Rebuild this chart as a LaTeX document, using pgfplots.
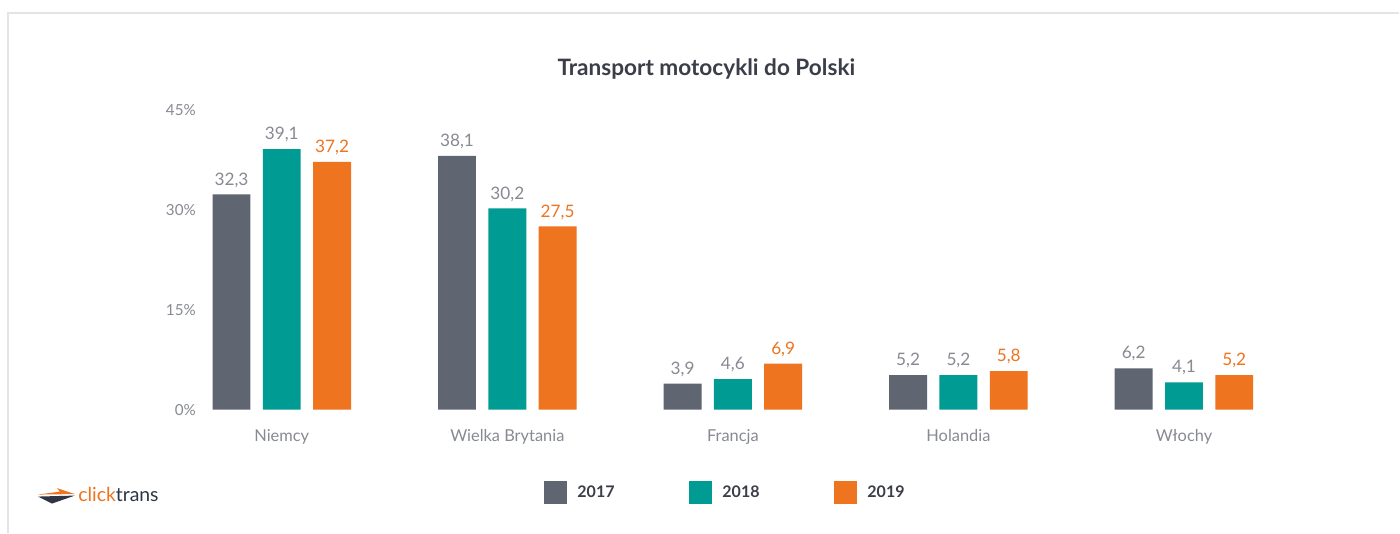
\documentclass[border=0pt]{standalone}
\usepackage{fontspec}
\setmainfont{Lato}
\usepackage{pgfplots}
\pgfplotsset{compat=1.18}
\definecolor{cgray}{HTML}{5F6672}
\definecolor{cteal}{HTML}{009B93}
\definecolor{corange}{HTML}{EE741F}
\definecolor{ctext}{HTML}{878A92}
\definecolor{ctitle}{HTML}{3B3D48}
\definecolor{cframe}{HTML}{E4E4E4}
\definecolor{clogo}{HTML}{2F3545}
\begin{document}
\begin{tikzpicture}
\begin{scope}[x=0.5pt,y=0.5pt]
\fill[white] (0,0) rectangle (1400,533);
\draw[cframe, line width=1.2pt] (8,0) -- (8,520) -- (1400,520);
\node[font=\bfseries\fontsize{11.3}{13}\selectfont, text=ctitle] at (707,464) {Transport motocykli do Polski};
% logo
\fill[corange] (38,38) -- (60,41) -- (57,44.5) -- (75,38.5) -- cycle;
\fill[clogo] (38,36) -- (75,37) -- (52,29) -- cycle;
\node[anchor=base west, inner sep=0pt, font=\fontsize{9.7}{11}\selectfont] at (78,31) {\textcolor{corange}{click}\textcolor{clogo}{trans}};
\end{scope}
\begin{axis}[
  at={(101.5pt,61.5pt)}, anchor=south west,
  scale only axis, width=530.5pt, height=150pt,
  xmin=-0.35, xmax=4.35, ymin=0, ymax=45,
  clip=false,
  ybar, bar width=0.168,
  axis line style={draw=none}, major tick length=0pt,
  xtick={0,1,2,3,4},
  xticklabels={Niemcy, Wielka Brytania, Francja, Holandia, Włochy},
  ytick={0,15,30,45},
  yticklabel={\pgfmathprintnumber{\tick}\%},
  tick label style={font=\fontsize{7.6}{9}\selectfont, text=ctext},
  xticklabel style={yshift=-6.5pt, font=\fontsize{8.2}{10}\selectfont},
  /pgf/number format/assume math mode=true,
  nodes near coords={\pgfmathprintnumber[fixed,fixed zerofill,precision=1,use comma,assume math mode=true]{\pgfplotspointmeta}},
  nodes near coords style={font=\fontsize{8.6}{10}\selectfont},
  legend style={at={(0.494,-0.277)}, anchor=center, draw=none, fill=none,
    font=\bfseries\fontsize{8}{10}\selectfont, text=ctitle,
    /tikz/every odd column/.append style={column sep=3pt},
    /tikz/every even column/.append style={column sep=35.5pt}},
  legend columns=3,
  legend image code/.code={\fill[#1] (0pt,-5.75pt) rectangle (11.5pt,5.75pt);},
]
\addplot[fill=cgray, draw=none, bar shift=-0.223, every node near coord/.append style={text=ctext}]
  coordinates {(0,32.3) (1,38.1) (2,3.9) (3,5.2) (4,6.2)};
\addplot[fill=cteal, draw=none, bar shift=0, every node near coord/.append style={text=ctext}]
  coordinates {(0,39.1) (1,30.2) (2,4.6) (3,5.2) (4,4.1)};
\addplot[fill=corange, draw=none, bar shift=0.223, every node near coord/.append style={text=corange}]
  coordinates {(0,37.2) (1,27.5) (2,6.9) (3,5.8) (4,5.2)};
\legend{2017,2018,2019}
\end{axis}
\end{tikzpicture}
\end{document}
